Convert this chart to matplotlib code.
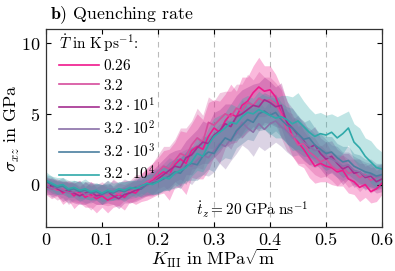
import matplotlib
matplotlib.use("Agg")
import matplotlib.pyplot as plt
import numpy as np

plt.rcParams['font.family'] = 'serif'
plt.rcParams['font.serif'] = ['cmr10', 'DejaVu Serif']
plt.rcParams['mathtext.fontset'] = 'cm'
plt.rcParams['axes.formatter.use_mathtext'] = True
plt.rcParams['axes.unicode_minus'] = False

K = [round(0.01 * i, 2) for i in range(61)]

labels = [r"$0.26$", r"$3.2$", r"$3.2\cdot10^{1}$", r"$3.2\cdot10^{2}$",
          r"$3.2\cdot10^{3}$", r"$3.2\cdot10^{4}$"]
colors = ["#f0188c", "#d64c9c", "#a42e90", "#8a70a8", "#4a7fa0", "#2fa9a9"]

mean_026 = [-0.1, -0.3, -0.2, -0.6, -0.4, -0.8, -0.5, -0.9, -0.7, -1.0, -0.8, -1.1, -0.9, -0.7, -0.9, -0.5, -0.6, -0.2, 0.0, 0.3,
            0.6, 0.9, 0.7, 1.4, 1.8, 1.5, 2.4, 2.7, 2.5, 3.4, 4.0, 3.7, 4.5, 5.0, 4.8, 5.6, 5.9, 6.5, 6.9, 6.6,
            6.7, 6.2, 5.1, 4.5, 3.4, 3.0, 2.5, 1.9, 1.3, 1.5, 1.3, 1.2, 0.9, 1.0, 0.4, 0.2, -0.2, 0.0, -0.5, -0.3, 0.1]
mean_32 = [0.1, -0.2, -0.4, -0.3, -0.6, -0.5, -0.7, -0.6, -0.9, -0.7, -0.6, -0.8, -0.5, -0.7, -0.4, -0.5, -0.2, -0.1, 0.2, 0.4,
           0.9, 1.3, 1.1, 1.7, 2.2, 2.0, 2.8, 3.3, 3.0, 4.4, 4.2, 4.6, 5.0, 4.8, 5.4, 5.2, 5.8, 5.6, 6.1, 5.9,
           6.0, 5.7, 5.0, 3.8, 3.5, 2.8, 2.9, 2.3, 2.0, 1.6, 1.8, 1.3, 1.0, 1.2, 0.8, 0.9, 0.5, 0.7, 0.3, 0.5, 0.6]
mean_32e1 = [-0.2, -0.1, -0.3, -0.5, -0.4, -0.6, -0.8, -0.6, -0.5, -0.8, -0.7, -0.5, -0.8, -1.0, -0.7, -0.6, -0.4, -0.3, 0.0, 0.1,
             0.4, 0.7, 1.0, 1.3, 1.2, 1.9, 2.1, 2.6, 3.0, 2.9, 3.5, 3.8, 4.3, 4.1, 4.8, 5.0, 5.3, 5.6, 5.5, 6.0,
             5.8, 5.5, 5.6, 4.4, 4.0, 3.5, 3.1, 2.6, 2.8, 2.2, 1.8, 2.0, 1.5, 1.1, 1.3, 0.8, 0.9, 0.5, 0.6, 0.2, 0.4]
mean_32e2 = [0.0, -0.3, -0.2, -0.4, -0.6, -0.5, -0.4, -0.7, -0.6, -0.5, -0.7, -0.6, -0.4, -0.5, -0.3, -0.4, -0.2, 0.0, -0.1, 0.2,
             0.3, 0.5, 0.8, 0.7, 1.1, 1.4, 1.3, 1.7, 2.1, 1.9, 2.4, 2.9, 2.7, 3.2, 3.6, 4.4, 4.0, 3.7, 4.3, 3.9,
             4.3, 4.5, 4.1, 3.8, 3.3, 3.5, 3.0, 2.7, 2.4, 2.5, 2.0, 1.8, 1.6, 1.3, 1.4, 1.0, 0.9, 0.6, 0.7, 0.5, 0.6]
mean_32e3 = [0.2, 0.0, -0.2, -0.1, -0.4, -0.3, -0.5, -0.4, -0.6, -0.5, -0.7, -0.5, -0.6, -0.4, -0.5, -0.3, -0.2, -0.3, 0.0, 0.1,
             0.2, 0.4, 0.6, 0.9, 0.8, 1.3, 1.5, 1.4, 2.0, 2.3, 2.2, 2.8, 3.3, 3.1, 3.8, 4.2, 4.6, 4.4, 5.0, 5.2,
             4.9, 5.1, 4.6, 4.2, 4.0, 3.6, 3.2, 3.3, 2.8, 2.5, 2.2, 2.3, 1.9, 1.6, 1.7, 1.3, 1.1, 0.9, 0.8, 0.6, 0.7]
mean_32e4 = [0.3, 0.1, -0.1, 0.0, -0.3, -0.2, -0.4, -0.3, -0.5, -0.4, -0.6, -0.4, -0.5, -0.3, -0.4, -0.2, -0.3, -0.1, 0.1, 0.0,
             0.2, 0.5, 0.4, 0.8, 1.0, 1.2, 1.6, 2.2, 2.0, 2.8, 3.4, 3.7, 4.0, 4.4, 4.3, 4.8, 5.1, 5.0, 5.3, 5.1,
             4.9, 4.7, 4.8, 4.6, 4.3, 4.5, 4.1, 3.7, 3.4, 3.6, 3.5, 3.7, 3.3, 3.6, 4.0, 3.0, 2.6, 2.0, 1.6, 1.2, 1.1]

std_026 = [0.6, 0.7, 0.6, 0.8, 0.7, 0.9, 0.8, 0.7, 0.9, 1.0, 0.8, 0.9, 0.7, 0.8, 0.9, 0.7, 0.8, 1.0, 1.1, 1.2,
           1.3, 1.5, 1.8, 1.6, 2.0, 2.2, 1.9, 2.3, 2.1, 2.4, 2.0, 2.2, 1.9, 2.1, 1.8, 2.0, 1.7, 1.9, 2.1, 1.8,
           1.7, 1.6, 1.8, 1.5, 1.4, 1.6, 1.3, 1.4, 1.2, 1.3, 1.1, 1.2, 1.0, 1.1, 1.0, 0.9, 1.0, 0.9, 0.8, 0.9, 0.8]
std_32 = [0.5, 0.6, 0.7, 0.6, 0.8, 0.7, 0.6, 0.8, 0.9, 0.7, 0.8, 0.7, 0.9, 0.8, 0.7, 0.8, 0.9, 0.8, 1.0, 1.1,
          1.2, 1.4, 1.6, 1.5, 1.8, 2.0, 1.7, 2.1, 1.9, 1.8, 1.7, 1.9, 1.6, 1.8, 1.7, 1.9, 2.0, 1.8, 1.9, 1.7,
          1.6, 1.5, 1.7, 1.4, 1.5, 1.3, 1.4, 1.2, 1.3, 1.1, 1.2, 1.0, 1.1, 0.9, 1.0, 0.9, 1.0, 0.8, 0.9, 0.8, 0.9]
std_32e1 = [0.5, 0.6, 0.5, 0.7, 0.6, 0.7, 0.6, 0.8, 0.7, 0.6, 0.7, 0.8, 0.6, 0.7, 0.6, 0.7, 0.8, 0.7, 0.8, 0.9,
            1.0, 1.1, 1.2, 1.1, 1.3, 1.2, 1.4, 1.3, 1.5, 1.4, 1.6, 1.5, 1.4, 1.6, 1.5, 1.7, 1.6, 1.5, 1.7, 1.6,
            1.5, 1.4, 1.6, 1.5, 1.4, 1.3, 1.4, 1.2, 1.3, 1.1, 1.2, 1.1, 1.0, 1.1, 0.9, 1.0, 0.9, 0.8, 0.9, 0.8, 0.9]
std_32e2 = [0.5, 0.6, 0.5, 0.6, 0.7, 0.6, 0.7, 0.6, 0.7, 0.6, 0.7, 0.6, 0.7, 0.6, 0.7, 0.6, 0.7, 0.6, 0.7, 0.8,
            0.9, 1.0, 1.1, 1.0, 1.2, 1.1, 1.3, 1.2, 1.4, 1.3, 1.5, 1.4, 1.6, 1.5, 1.4, 1.6, 1.5, 1.7, 1.6, 1.5,
            1.6, 1.5, 1.4, 1.5, 1.3, 1.4, 1.2, 1.3, 1.2, 1.1, 1.2, 1.0, 1.1, 1.0, 0.9, 1.0, 0.9, 1.0, 0.8, 0.9, 0.8]
std_32e3 = [0.5, 0.6, 0.5, 0.6, 0.5, 0.6, 0.7, 0.6, 0.5, 0.6, 0.7, 0.6, 0.5, 0.6, 0.7, 0.6, 0.5, 0.6, 0.7, 0.8,
            0.9, 0.8, 1.0, 0.9, 1.1, 1.0, 1.2, 1.1, 1.3, 1.2, 1.3, 1.2, 1.4, 1.3, 1.2, 1.3, 1.4, 1.3, 1.2, 1.3,
            1.4, 1.3, 1.2, 1.3, 1.4, 1.3, 1.2, 1.3, 1.2, 1.1, 1.2, 1.1, 1.0, 1.1, 1.0, 0.9, 1.0, 0.9, 1.0, 0.9, 0.8]
std_32e4 = [0.6, 0.5, 0.6, 0.5, 0.6, 0.5, 0.6, 0.7, 0.6, 0.5, 0.6, 0.7, 0.6, 0.5, 0.6, 0.5, 0.6, 0.7, 0.6, 0.7,
            0.8, 0.9, 0.8, 1.0, 0.9, 1.1, 1.0, 1.2, 1.1, 1.2, 1.3, 1.2, 1.1, 1.3, 1.2, 1.3, 1.2, 1.1, 1.3, 1.2,
            1.3, 1.4, 1.5, 1.7, 1.9, 2.0, 1.8, 1.7, 1.6, 1.5, 1.4, 1.3, 1.5, 1.4, 1.2, 1.3, 1.4, 1.3, 1.5, 1.4, 1.2]

means = [mean_026, mean_32, mean_32e1, mean_32e2, mean_32e3, mean_32e4]
stds = [std_026, std_32, std_32e1, std_32e2, std_32e3, std_32e4]

fig = plt.figure(figsize=(3.95, 2.71), dpi=100)
ax = fig.add_axes([46/395, 44/271, 336/395, 198/271])

for xv in [0.2, 0.3, 0.4, 0.5]:
    ax.axvline(xv, color="#bbbbbb", lw=0.8, ls=(0, (5, 4)), zorder=0)

for m, s, c in zip(means, stds, colors):
    m = np.array(m)
    s = np.array(s)
    ax.fill_between(K, m - s, m + s, color=c, alpha=0.3, lw=0, zorder=1)

for m, c, lab in zip(means, colors, labels):
    ax.plot(K, m, color=c, lw=1.2, label=lab, zorder=2)

ax.set_xlim(0, 0.6)
ax.set_ylim(-3, 11)
ax.set_xticks([0, 0.1, 0.2, 0.3, 0.4, 0.5, 0.6])
ax.set_xticklabels(["0", "0.1", "0.2", "0.3", "0.4", "0.5", "0.6"])
ax.set_yticks([0, 5, 10])
ax.tick_params(direction="in", top=True, right=True, labelsize=13, length=3.5, width=0.8, pad=4)
for sp in ax.spines.values():
    sp.set_linewidth(0.9)
    sp.set_color("#333333")

ax.set_xlabel(r"$K_{\mathrm{III}}\ \mathrm{in\ MPa}\sqrt{\mathrm{m}}$", fontsize=13)
ax.xaxis.set_label_coords(0.5, -0.1)
ax.set_ylabel(r"$\sigma_{xz}\ \mathrm{in\ GPa}$", fontsize=13)
ax.yaxis.set_label_coords(-0.072, 0.5)

leg = ax.legend(loc="upper left", frameon=False, fontsize=11,
                title=r"$\dot{T}\ \mathrm{in\ K\,ps^{-1}}$:", title_fontsize=11,
                alignment="left", handlelength=2.6, handletextpad=0.25,
                labelspacing=0.29, borderpad=0.2, borderaxespad=0.0,
                bbox_to_anchor=(0.03, 1.0))

ax.text(0.268, -1.8, r"$\dot{t}_z = 20\;\mathrm{GPa}\;\mathrm{ns}^{-1}$", fontsize=11, va="center", ha="left")

fig.text(50/395, 1 - 19/271, r"$\mathbf{b)}$ Quenching rate", fontsize=12.8, ha="left", va="baseline")

fig.savefig("out.png", dpi=100)
